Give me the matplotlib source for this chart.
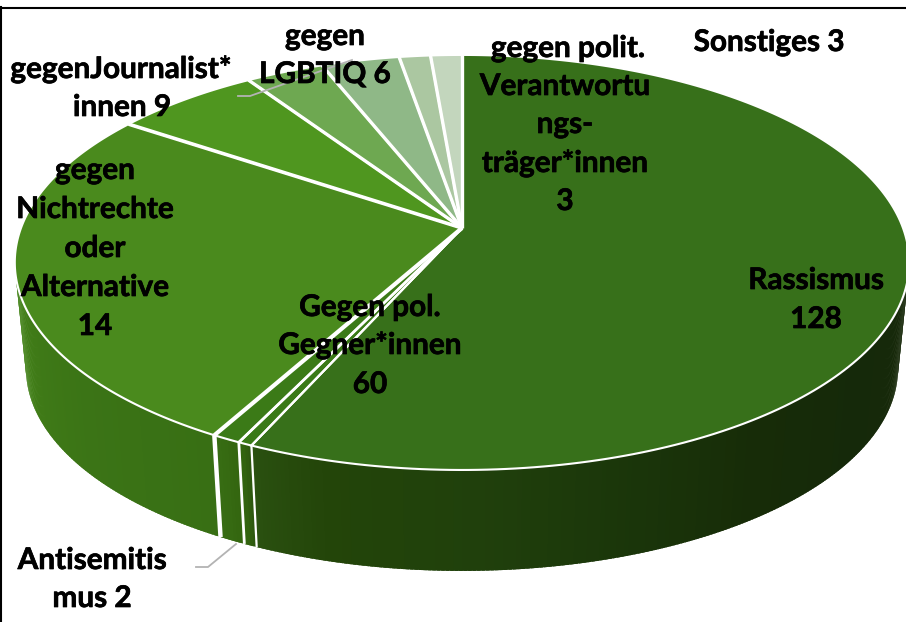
import numpy as np
import matplotlib
matplotlib.use('Agg')
import matplotlib.pyplot as plt
import matplotlib.patheffects as pe
from matplotlib.collections import PolyCollection
from matplotlib.colors import to_rgb

plt.rcParams['font.family'] = ['Lato', 'DejaVu Sans']

# clockwise from 12 o'clock. the thin slice without a label is in the picture too
categories = ['Rassismus', '', 'Antisemitismus', 'Gegen pol. Gegner*innen',
              'gegen Nichtrechte oder Alternative', 'gegen Journalist*innen',
              'gegen LGBTIQ', 'gegen polit. Verantwortungsträger*innen', 'Sonstiges']
# slice sizes as drawn: the two 7.5 are measured, the picture prints 9 and 6 for them
values = [128, 1, 2, 60, 14, 7.5, 7.5, 3, 3]
top_colors = ['#37701a', '#3a7a17', '#3b7a17', '#4a8a1d', '#4f961f',
              '#6ea851', '#8fb887', '#abc7a1', '#c3d6bd']

# wall colour at (angle in degrees, colour)
wall_angles = [100, 125, 145, 160, 178, 195, 203.5, 205, 209, 230, 245, 260]
wall_colors = ['#18290a', '#15290a', '#172c08', '#1a350a', '#20400c', '#234509', '#2a5010',
               '#33640f', '#386f14', '#3b7416', '#3f7a17', '#4a8a1f']

# label text, x, y in picture pixels
labels = [
  ('gegen', 325, 36), ('LGBTIQ 6', 325, 74),
  ('gegenJournalist*', 121, 69), ('innen 9', 122, 107),
  ('gegen', 95, 170), ('Nichtrechte', 95, 209), ('oder', 95, 248),
  ('Alternative', 95, 287), ('14', 95, 326),
  ('Gegen pol.', 370, 307), ('Gegner*innen', 370, 345), ('60', 370, 384),
  ('gegen polit.', 568, 48), ('Verantwortu', 565, 86), ('ngs-', 565, 124),
  ('träger*innen', 565, 163), ('3', 565, 201),
  ('Sonstiges 3', 769, 42),
  ('Rassismus', 816, 280), ('128', 816, 319),
  ('Antisemitis', 92, 560), ('mus 2', 92, 598),
]
leaders = [([238, 250, 352], [96, 96, 60]), ([236, 208, 196], [544, 567, 567])]

apex_x, apex_y = 462, 228
persp = 0.166


def top_xy(deg):
  t = np.radians(deg)
  d = 1 + persp * np.cos(t)
  return apex_x + 441 * np.sin(t) / d, apex_y - 201.8 * np.cos(t) / d


def bottom_xy(deg):
  x, y = top_xy(deg)
  return apex_x + (x - apex_x) * 0.975, apex_y + (y - apex_y) * 0.975 + 107


def wall_color(deg):
  rgb = np.array([to_rgb(c) for c in wall_colors])
  return [np.interp(deg, wall_angles, rgb[:, i]) for i in range(3)]


fig = plt.figure(figsize=(9.06, 6.22), dpi=100)
ax = fig.add_axes([0, 0, 1, 1])
ax.set_xlim(0, 906)
ax.set_ylim(622, 0)
ax.axis('off')

edges = np.concatenate([[0], np.cumsum(values)]) / sum(values) * 360

# walls, only the part that faces the viewer. strips overlap so no seams show
lo, hi = 99.5, 260.5
for i in range(len(values)):
  a, b = max(edges[i], lo), min(edges[i + 1], hi)
  if b <= a:
    continue
  th = np.linspace(a, b, int((b - a) * 2) + 2)
  polys, cols = [], []
  for t0, t1 in zip(th[:-1], th[1:]):
    t2 = min(t1 + 0.4, b)
    x0, y0 = top_xy(t0)
    x1, y1 = top_xy(t2)
    x2, y2 = bottom_xy(t2)
    x3, y3 = bottom_xy(t0)
    polys.append([(x0, y0), (x1, y1), (x2, y2), (x3, y3)])
    cols.append(wall_color((t0 + t1) / 2))
  ax.add_collection(PolyCollection(polys, facecolors=cols, edgecolors='none', zorder=1))

# white edges of the slices on the wall
edge_widths = [0, 1.6, 2, 3.2, 2, 2, 2, 2, 2, 0]
for e, w in zip(edges, edge_widths):
  if lo < e < hi:
    x0, y0 = top_xy(e)
    x1, y1 = bottom_xy(e)
    ax.plot([x0, x1], [y0, y1], color='white', lw=w, zorder=2, solid_capstyle='butt')

# top face
for i in range(len(values)):
  th = np.linspace(edges[i], edges[i + 1], 200)
  x, y = top_xy(th)
  ax.fill(np.r_[apex_x, x], np.r_[apex_y, y], facecolor=top_colors[i], edgecolor='white',
          lw=1.5, joinstyle='miter', zorder=3)

# spokes on the top face, the one left of the small slices is wider
spoke_widths = [2.4, 1.6, 2, 3, 2.6, 2.4, 2.4, 2.4, 2.4]
for e, w in zip(edges[:-1], spoke_widths):
  x, y = top_xy(e)
  ax.plot([apex_x, x], [apex_y, y], color='white', lw=w, zorder=3.5, solid_capstyle='butt')

for xs, ys in leaders:
  ax.plot(xs, ys, color='#b3b3b3', lw=1.3, zorder=4)

for txt, x, y in labels:
  ax.text(x, y, txt, ha='center', va='center', fontsize=21.4, fontweight='bold', color='black', zorder=5,
          path_effects=[pe.withStroke(linewidth=0.5, foreground='black')])

# frame of the picture
ax.plot([0, 906], [8, 8], color='black', lw=1.5, zorder=6)
ax.plot([0.6, 0.6], [7, 622], color='black', lw=1.5, zorder=6)

fig.savefig('out.png', dpi=100)
plt.close()
